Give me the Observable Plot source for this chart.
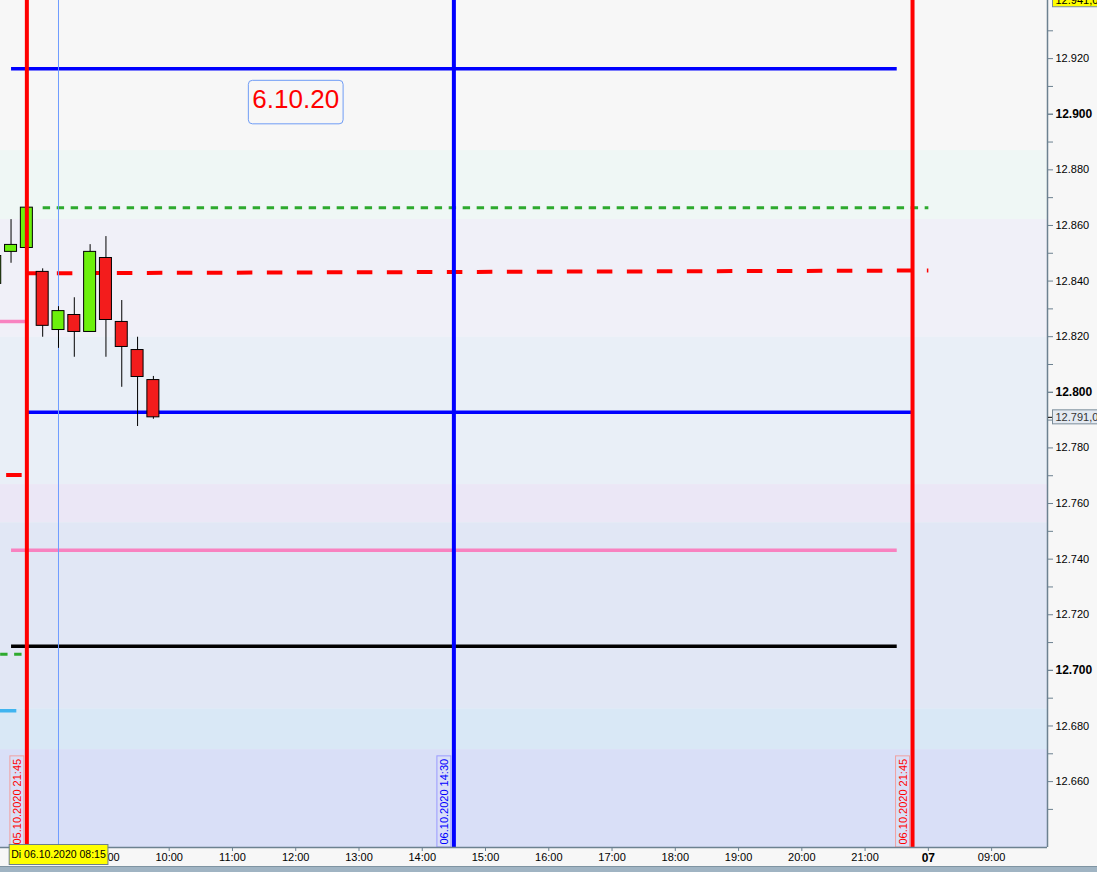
<!DOCTYPE html>
<html><head><meta charset="utf-8">
<script src="https://cdn.jsdelivr.net/npm/d3@7"></script>
<script src="https://cdn.jsdelivr.net/npm/@observablehq/plot@0.6"></script>
<style>
html,body{margin:0;padding:0;background:#f7f7f7;overflow:hidden}
#strip{height:6px;width:1097px;background:#a0b4c3;border-top:1px solid #7f94a2;box-sizing:border-box}
svg{display:block}
</style></head><body>
<div id="chart"></div><div id="strip"></div>
<script>
// ---- candles (15 min bars) ----
const candleTimes = ["05.10 21:15","05.10 21:30","05.10 21:45","06.10 08:00","06.10 08:15","06.10 08:30","06.10 08:45","06.10 09:00","06.10 09:15","06.10 09:30","06.10 09:45"];
const candleOpen  = [12839.0,12850.5,12851.9,12843.3,12822.4,12827.8,12821.7,12848.3,12825.3,12815.2,12804.4];
const candleHigh  = [12851.0,12862.1,12866.4,12844.4,12830.8,12834.0,12853.1,12856.0,12833.0,12819.8,12805.7];
const candleLow   = [12836.0,12846.4,12850.0,12819.8,12815.8,12812.6,12821.7,12812.6,12801.8,12787.7,12790.3];
const candleClose = [12849.0,12853.0,12866.4,12823.9,12829.2,12821.7,12850.5,12826.0,12816.3,12805.5,12791.0];

// ---- horizontal levels ----
const levelKind  = ["blue","blue","greenDot","redDash","pink","black","pink","redDash","greenDot","cyan"];
const levelFrom  = ["05.10 21:30","05.10 21:45","06.10 08:00","05.10 21:45","05.10 21:30","05.10 21:30","05.10 20:00","05.10 20:00","05.10 20:00","05.10 20:00"];
const levelTo    = ["06.10 21:30","06.10 21:45","07.10 08:00","07.10 08:00","06.10 21:30","06.10 21:30","05.10 21:45","05.10 21:45","05.10 21:45","05.10 21:35"];
const levelStart = [12916.4,12792.8,12866.4,12842.8,12743.2,12708.7,12825.5,12770.3,12705.8,12685.5];
const levelEnd   = [12916.4,12792.8,12866.4,12843.8,12743.2,12708.7,12825.5,12770.3,12705.8,12685.5];

// ---- vertical lines ----
const vlineKind  = ["red","cursor","blue","red"];
const vlineTimes = ["05.10 21:45","06.10 08:15","06.10 14:30","06.10 21:45"];
const vlabelText = ["05.10.2020 21:45","","06.10.2020 14:30","06.10.2020 21:45"];

// ---- background zones ----
const bandLow  = [12886.9,12862.1,12819.8,12766.8,12753.1,12686.2,12671.5,12600.0];
const bandHigh = [12960.0,12886.9,12862.1,12819.8,12766.8,12753.1,12686.2,12671.5];

// ---- note & labels ----
const noteTime = "06.10 12:00", notePrice = 12905.3, noteText = "6.10.20";
const cursorLabel = "Di 06.10.2020 08:15";
const lastPrice = 12791.0, topPrice = 12941.0;

// ---- axes ----
const xDomain = ["05.10 21:20","07.10 09:53"];
const yDomain = [12636.3, 12940.9];
const xTickTimes  = ["06.10 08:00","06.10 09:00","06.10 10:00","06.10 11:00","06.10 12:00","06.10 13:00","06.10 14:00","06.10 15:00","06.10 16:00","06.10 17:00","06.10 18:00","06.10 19:00","06.10 20:00","06.10 21:00","07.10 08:00","07.10 09:00"];
const xTickLabels = ["","09:00","10:00","11:00","12:00","13:00","14:00","15:00","16:00","17:00","18:00","19:00","20:00","21:00","07","09:00"];
const yTicks = d3.range(12650, 12931, 10);

// ---- styles ----
const bandFill = ["#f7f7f7","#eff7f5","#f0f0f8","#e9eff7","#ebe7f6","#e1e7f5","#d9e8f6","#d9dff7"];
const levelStyle = {
  blue:{stroke:"#0000ff",w:3.5,dash:null},
  greenDot:{stroke:"#2eaa2e",w:3,dash:"7.4,6.6"},
  redDash:{stroke:"#ff0000",w:4,dash:"15.5,14.5"},
  pink:{stroke:"#f882c0",w:3.5,dash:null},
  black:{stroke:"#000000",w:3.5,dash:null},
  cyan:{stroke:"#40b4f0",w:3.5,dash:null}
};
const vStyle = {red:{stroke:"#ff0000",w:4,text:"#ff0000",box:"#f0a0a0"}, blue:{stroke:"#0000ff",w:4,text:"#0000ff",box:"#9a9aff"}, cursor:{stroke:"#6f9cff",w:1}};
const axisGray = "#6c8190";

// session time index: sessions 08:00-22:00, gaps removed
const sessionOpen = 8, sessionClose = 22, baseDay = 6;
function tIdx(s){
  const [d, hm] = s.split(" ");
  const day = +d.split(".")[0];
  const [h, m] = hm.split(":").map(Number);
  return (day - baseDay) * (sessionClose - sessionOpen) + h + m/60 - sessionOpen;
}
const de = d3.formatLocale({decimal:",", thousands:".", grouping:[3], currency:["","€"]});
const fmtAxis = de.format(",.0f"), fmtPrice = de.format(",.1f");

const xd = xDomain.map(tIdx);
const cI = d3.range(candleTimes.length);
const lI = d3.range(levelKind.length);
const vI = d3.range(vlineTimes.length);
const bI = d3.range(bandLow.length);
const xLabelMap = new Map(xTickTimes.map((t,i)=>[tIdx(t), xTickLabels[i]]));

const levelMarks = Object.keys(levelStyle).map(k => Plot.link(lI.filter(i=>levelKind[i]===k), {
  x1: i=>tIdx(levelFrom[i]), y1: i=>levelStart[i], x2: i=>tIdx(levelTo[i]), y2: i=>levelEnd[i],
  stroke: levelStyle[k].stroke, strokeWidth: levelStyle[k].w, strokeDasharray: levelStyle[k].dash, clip: true
}));

const chart = Plot.plot({
  width: 1097, height: 866,
  marginLeft: 0, marginRight: 50, marginTop: 0, marginBottom: 19,
  x: {domain: xd, axis: null},
  y: {domain: yDomain, axis: null},
  color: {type: "identity"},
  style: {background: "#f7f7f7", fontFamily: "'Liberation Sans', Arial, sans-serif", fontSize: "11px", color: "black"},
  marks: [
    Plot.rect(bI, {x1: ()=>xd[0], x2: ()=>xd[1], y1: i=>Math.max(bandLow[i], yDomain[0]), y2: i=>Math.min(bandHigh[i], yDomain[1]), fill: i=>bandFill[i]}),
    ...levelMarks,
    Plot.ruleX(vI.filter(i=>vlineKind[i]==="cursor"), {x: i=>tIdx(vlineTimes[i]), stroke: vStyle.cursor.stroke, strokeWidth: 1}),
    Plot.ruleX(cI, {x: i=>tIdx(candleTimes[i]), y1: i=>candleLow[i], y2: i=>candleHigh[i], stroke: "black", strokeWidth: 1, clip: true}),
    Plot.rect(cI, {x1: i=>tIdx(candleTimes[i]), x2: i=>tIdx(candleTimes[i]), y1: i=>candleOpen[i], y2: i=>candleClose[i],
      insetLeft: -6, insetRight: -6, fill: i=>candleClose[i] >= candleOpen[i] ? "#6cf00c" : "#f31c1c", stroke: "black", strokeWidth: 1, clip: true}),
    Plot.ruleX(vI.filter(i=>vlineKind[i]!=="cursor"), {x: i=>tIdx(vlineTimes[i]), stroke: i=>vStyle[vlineKind[i]].stroke, strokeWidth: 4}),
    Plot.text(vI.filter(i=>vlabelText[i]), {x: i=>tIdx(vlineTimes[i]), frameAnchor: "bottom", text: i=>vlabelText[i], rotate: -90,
      textAnchor: "start", lineAnchor: "middle", dx: -9.5, dy: -3, fill: i=>vStyle[vlineKind[i]].text, fontSize: 11, ariaDescription: "vlabel"}),
    Plot.text([0], {x: ()=>tIdx(noteTime), y: ()=>notePrice, text: ()=>noteText, fill: "#ff0000", fontSize: 26, ariaDescription: "note"}),
    // axis lines
    Plot.ruleX([xd[1]], {stroke: axisGray, strokeWidth: 1.5}),
    Plot.ruleY([yDomain[0]], {stroke: axisGray, strokeWidth: 1.5}),
    // y axis
    Plot.axisY(yTicks, {anchor: "right", tickSize: 5, tickPadding: 3, stroke: axisGray, fill: "black", fontSize: 11,
      tickFormat: d => (d % 20 === 0 && d % 100 !== 0) ? fmtAxis(d) : ""}),
    Plot.axisY(yTicks.filter(d=>d%100===0), {anchor: "right", tickSize: 5, tickPadding: 3, stroke: axisGray, fill: "black", fontSize: 12, fontWeight: "bold", tickFormat: fmtAxis}),
    Plot.axisY([lastPrice], {anchor: "right", tickSize: 5, stroke: "black", tickFormat: () => ""}),
    // x axis
    Plot.axisX(xTickTimes.map(tIdx).filter(d=>xLabelMap.get(d)!=="07"), {anchor: "bottom", tickSize: 4, tickPadding: 2, stroke: axisGray, fill: "black", fontSize: 11, tickFormat: d => xLabelMap.get(d) ?? ""}),
    Plot.axisX([tIdx("07.10 08:00")], {anchor: "bottom", tickSize: 4, tickPadding: 2, stroke: axisGray, fill: "black", fontSize: 12, fontWeight: "bold", tickFormat: () => "07"}),
    Plot.axisX([tIdx(vlineTimes[1])], {anchor: "bottom", tickSize: 4, stroke: "black", strokeWidth: 1.5, tickFormat: () => ""}),
    // labels on axes
    Plot.text([0], {x: ()=>tIdx(vlineTimes[1]), frameAnchor: "bottom", dy: 10, text: ()=>cursorLabel, fill: "black", fontSize: 10.5, ariaDescription: "cursorlabel"}),
    Plot.text([0], {x: ()=>xd[1], y: ()=>lastPrice, text: ()=>fmtPrice(lastPrice), textAnchor: "start", dx: 8, fill: "#333", fontSize: 11, ariaDescription: "pricelabel"}),
    Plot.text([0], {x: ()=>xd[1], y: ()=>topPrice, text: ()=>fmtPrice(topPrice), textAnchor: "start", dx: 8, fill: "black", fontSize: 11, ariaDescription: "toplabel"})
  ]
});
document.getElementById("chart").append(chart);

// boxes behind labels
const ns = "http://www.w3.org/2000/svg";
function boxify(label, o) {
  const sr = chart.getBoundingClientRect();
  const g = chart.querySelector(`g[aria-description="${label}"]`);
  if (!g) return;
  g.querySelectorAll("text").forEach((t, k) => {
    const r = t.getBoundingClientRect();
    let x0 = r.left - sr.left - o.padL, x1 = r.right - sr.left + o.padR;
    let y0 = r.top - sr.top - o.padT, y1 = r.bottom - sr.top + o.padB;
    if (o.bottom != null) y1 = o.bottom;
    if (o.right != null) x1 = o.right;
    const rect = document.createElementNS(ns, "rect");
    rect.setAttribute("x", x0); rect.setAttribute("y", y0);
    rect.setAttribute("width", x1 - x0); rect.setAttribute("height", y1 - y0);
    rect.setAttribute("rx", o.rx || 0);
    rect.setAttribute("fill", o.fill || "none");
    rect.setAttribute("stroke", typeof o.stroke === "function" ? o.stroke(t, k) : o.stroke);
    rect.setAttribute("stroke-width", 1);
    g.parentNode.insertBefore(rect, g);
  });
}
const frameBottom = 866 - 19;
const vlabKinds = vI.filter(i=>vlabelText[i]).map(i=>vlineKind[i]);
boxify("vlabel", {padL: 1, padR: 1, padT: 3, padB: 0, bottom: frameBottom, stroke: (t,k)=>vStyle[vlabKinds[k]].box});
boxify("note", {padL: 4, padR: 4, padT: 3.5, padB: 10, rx: 4, stroke: "#6f9cf5"});
boxify("cursorlabel", {padL: 2, padR: 2, padT: 3, padB: 5, fill: "#ffff00", stroke: "#6c7f8c"});
boxify("pricelabel", {padL: 3, padR: 2, padT: 1, padB: 1, right: 1100, fill: "#e4eaf2", stroke: "#7a8c99"});
boxify("toplabel", {padL: 3, padR: 2, padT: 1, padB: 1, right: 1100, fill: "#ffff00", stroke: "#7a8c99"});
</script>
</body></html>
